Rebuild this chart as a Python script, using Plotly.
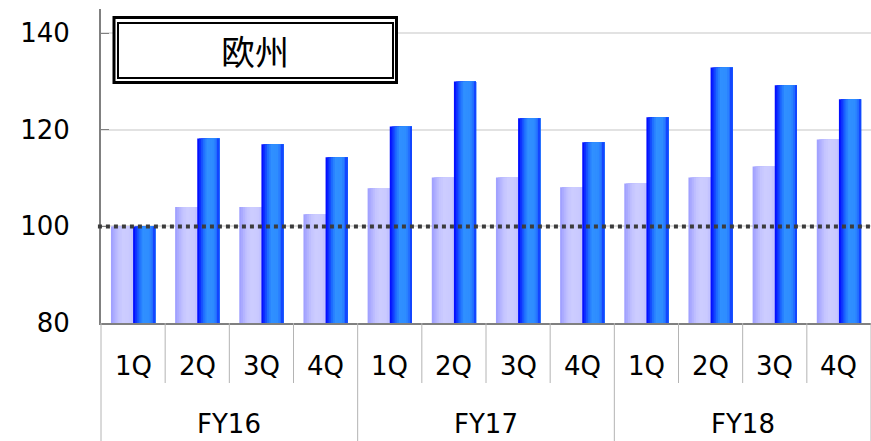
import plotly.graph_objects as go

# ---- data ----
years = ["FY16", "FY17", "FY18"]
quarters = ["1Q", "2Q", "3Q", "4Q"]
prev_values = [100.0, 104.0, 104.0, 102.5, 107.9, 110.1, 110.1, 108.1, 108.9, 110.1, 112.4, 118.0]
curr_values = [100.0, 118.2, 117.0, 114.3, 120.7, 130.0, 122.4, 117.4, 122.6, 132.9, 129.2, 126.3]
y_ticks = [80, 100, 120, 140]
baseline_value = 100
title_text = "欧州"

categories = [f"{y} {q}" for y in years for q in quarters]
n_cat = len(categories)

# ---- layout geometry (pixels) ----
W, H = 871, 441
L, R, T, B = 101, 871, 9, 323
PW, PH = R - L, B - T


def px(xp):
    return (xp - L) / PW


def py(yp):
    return (B - yp) / PH


def hex_to_rgb(h):
    h = h.lstrip("#")
    return tuple(int(h[i:i + 2], 16) for i in (0, 2, 4))


def gradient(stops, t):
    for (t0, c0), (t1, c1) in zip(stops, stops[1:]):
        if t0 <= t <= t1:
            f = 0 if t1 == t0 else (t - t0) / (t1 - t0)
            a, b = hex_to_rgb(c0), hex_to_rgb(c1)
            return "rgb(%d,%d,%d)" % tuple(round(a[i] + (b[i] - a[i]) * f) for i in range(3))
    return stops[-1][1]


light_stops = [(0.0, "#9c9cff"), (0.35, "#c4c4ff"), (0.55, "#ccccff"), (0.85, "#cacaff"), (1.0, "#c0c0ff")]
dark_stops = [(0.0, "#0000ff"), (0.3, "#1f70ff"), (0.45, "#3090ff"), (0.75, "#2e8cff"), (0.9, "#1f66ff"), (1.0, "#0a30ff")]

bar_w = 0.345
stripes = 12

fig = go.Figure()


def add_gradient_bar(values, start, stops):
    step = bar_w / stripes
    for i in range(stripes):
        t = (i + 0.5) / stripes
        fig.add_trace(go.Bar(
            x=categories, y=values,
            offset=start + i * step, width=bar_w - i * step,
            marker=dict(color=gradient(stops, t), line=dict(width=0)),
            showlegend=False, hoverinfo="skip" if i else "y",
        ))


add_gradient_bar(prev_values, -bar_w, light_stops)
add_gradient_bar(curr_values, 0.0, dark_stops)

shapes = []
annotations = []

# baseline at 100 (dotted)
shapes.append(dict(type="line", xref="paper", yref="y", x0=-0.004, x1=1,
                   y0=baseline_value, y1=baseline_value,
                   line=dict(color="#3c3c3c", width=4, dash="4px,4px"), layer="above"))

# category axis dividers and labels
for k in range(n_cat + 1):
    long_div = (k % len(quarters) == 0)
    shapes.append(dict(type="line", xref="paper", yref="paper",
                       x0=k / n_cat, x1=k / n_cat,
                       y0=0, y1=py(441 if long_div else 383),
                       line=dict(color="#b4b4b4", width=1)))

for i, c in enumerate(categories):
    annotations.append(dict(xref="paper", yref="paper", x=(i + 0.5) / n_cat, y=py(366),
                            text=quarters[i % len(quarters)], showarrow=False,
                            font=dict(family="DejaVu Sans", size=26, color="#000"),
                            xanchor="center", yanchor="middle"))
for j, y in enumerate(years):
    annotations.append(dict(xref="paper", yref="paper",
                            x=(j * len(quarters) + len(quarters) / 2) / n_cat, y=py(424),
                            text=y, showarrow=False,
                            font=dict(family="DejaVu Sans", size=26, color="#000"),
                            xanchor="center", yanchor="middle"))

# title box with double border
shapes.append(dict(type="rect", xref="paper", yref="paper",
                   x0=px(114), x1=px(396.5), y0=py(17.5), y1=py(82.5),
                   line=dict(color="#000", width=3), fillcolor="#fff", layer="above"))
shapes.append(dict(type="rect", xref="paper", yref="paper",
                   x0=px(118), x1=px(393), y0=py(23), y1=py(78),
                   line=dict(color="#000", width=2), layer="above"))
annotations.append(dict(xref="paper", yref="paper", x=px(255), y=py(51),
                        text=title_text, showarrow=False,
                        font=dict(family="Noto Sans CJK JP", size=34, color="#000"),
                        xanchor="center", yanchor="middle"))

fig.update_layout(
    width=W, height=H,
    margin=dict(l=L, r=W - R, t=T, b=H - B),
    paper_bgcolor="#fff", plot_bgcolor="#fff",
    barmode="overlay",
    shapes=shapes, annotations=annotations,
    xaxis=dict(type="category", range=[-0.5, n_cat - 0.5], showticklabels=False,
               showgrid=False, showline=True, linecolor="#808080", linewidth=2,
               ticks="", fixedrange=True),
    yaxis=dict(range=[80, 145], tickvals=y_ticks, showgrid=True,
               gridcolor="#e2e2e2", gridwidth=2, zeroline=False,
               showline=True, linecolor="#808080", linewidth=2,
               ticks="inside", ticklen=8, tickcolor="#808080", tickwidth=1,
               ticklabelstandoff=24,
               tickfont=dict(family="DejaVu Sans", size=26, color="#000")),
)

fig.write_html("out.html")
